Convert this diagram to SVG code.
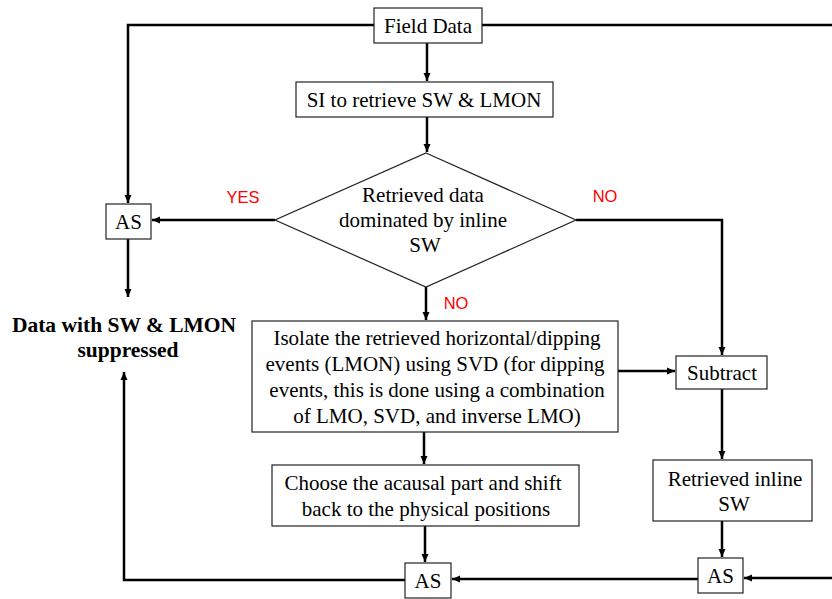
<svg xmlns="http://www.w3.org/2000/svg" width="832" height="599" viewBox="0 0 832 599">
<style>
.box{fill:#fff;stroke:#222;stroke-width:1.2}
.t{font-size:21px;fill:#000;text-anchor:middle}
.b{font-size:21.5px;font-weight:bold;fill:#000;text-anchor:middle}
.lab{font-size:16.5px;fill:#ff0000;text-anchor:middle}
.c{fill:none;stroke:#000;stroke-width:2.5}
</style>
<defs>
<marker id="ah" markerUnits="userSpaceOnUse" markerWidth="9" markerHeight="8" refX="8" refY="4" orient="auto">
<path d="M0,0.5 L8,4 L0,7.5 z" fill="#000"/>
</marker>
</defs>
<g id="connectors">
<path class="c" d="M427,43 V81" marker-end="url(#ah)"/>
<path class="c" d="M427,117 V152" marker-end="url(#ah)"/>
<path class="c" d="M374,25 H128 V203" marker-end="url(#ah)"/>
<path class="c" d="M482,25 H845 V578 H744" marker-end="url(#ah)"/>
<path class="c" d="M275,220 H152" marker-end="url(#ah)"/>
<path class="c" d="M128,239 V297" marker-end="url(#ah)"/>
<path class="c" d="M426,287 V320" marker-end="url(#ah)"/>
<path class="c" d="M576,220 H722 V355" marker-end="url(#ah)"/>
<path class="c" d="M618,371 H675" marker-end="url(#ah)"/>
<path class="c" d="M722,389 V459" marker-end="url(#ah)"/>
<path class="c" d="M722,521 V557" marker-end="url(#ah)"/>
<path class="c" d="M424,432 V464" marker-end="url(#ah)"/>
<path class="c" d="M425,526 V562" marker-end="url(#ah)"/>
<path class="c" d="M698,579 H452" marker-end="url(#ah)"/>
<path class="c" d="M405,580 H124 V372" marker-end="url(#ah)"/>
</g>
<g font-family="'Liberation Serif', 'Times New Roman', Times, 'DejaVu Serif', serif">
<g id="field-data">
<rect class="box" x="374" y="8" width="108" height="35"/>
<text class="t" x="428" y="33">Field Data</text>
</g>
<g id="si">
<rect class="box" x="296" y="82" width="257" height="35"/>
<text class="t" x="424" y="107">SI to retrieve SW &amp; LMON</text>
</g>
<g id="decision">
<polygon class="box" points="426,153 576,220 426,287 275,220"/>
<text class="t" x="423" y="202">Retrieved data</text>
<text class="t" x="423" y="227">dominated by inline</text>
<text class="t" x="425" y="252">SW</text>
</g>
<g id="as-left">
<rect class="box" x="106" y="204" width="45" height="35"/>
<text class="t" x="128.5" y="229">AS</text>
</g>
<g id="result">
<text class="b" x="124" y="332">Data with SW &amp; LMON</text>
<text class="b" x="128" y="357">suppressed</text>
</g>
<g id="isolate">
<rect class="box" x="252" y="321" width="366" height="111"/>
<text class="t" x="437" y="345">Isolate the retrieved horizontal/dipping</text>
<text class="t" x="435" y="371">events (LMON) using SVD (for dipping</text>
<text class="t" x="437" y="397">events, this is done using a combination</text>
<text class="t" x="437" y="423">of LMO, SVD, and inverse LMO)</text>
</g>
<g id="subtract">
<rect class="box" x="676" y="356" width="91" height="33"/>
<text class="t" x="722" y="380">Subtract</text>
</g>
<g id="retrieved-inline">
<rect class="box" x="653" y="460" width="159" height="61"/>
<text class="t" x="735" y="486">Retrieved inline</text>
<text class="t" x="734" y="511">SW</text>
</g>
<g id="choose">
<rect class="box" x="272" y="465" width="307" height="61"/>
<text class="t" x="423" y="490">Choose the acausal part and shift</text>
<text class="t" x="426" y="516">back to the physical positions</text>
</g>
<g id="as-mid">
<rect class="box" x="405" y="563" width="46" height="35"/>
<text class="t" x="428" y="588">AS</text>
</g>
<g id="as-right">
<rect class="box" x="698" y="558" width="45" height="35"/>
<text class="t" x="720.5" y="583">AS</text>
</g>
</g>
<g font-family="'Liberation Sans', Arial, sans-serif">
<g id="label-yes"><text class="lab" x="243" y="203">YES</text></g>
<g id="label-no-right"><text class="lab" x="605" y="202">NO</text></g>
<g id="label-no-down"><text class="lab" x="456" y="309">NO</text></g>
</g>
</svg>
